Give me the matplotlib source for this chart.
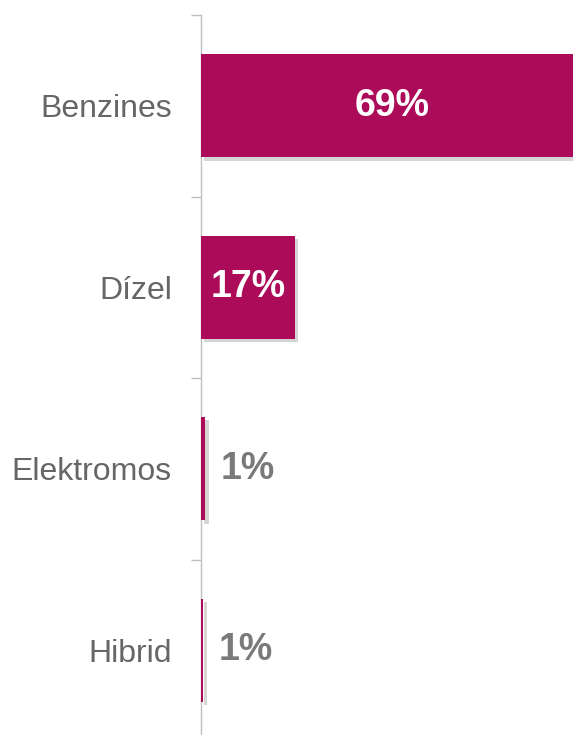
import matplotlib
matplotlib.use('Agg')
import matplotlib.pyplot as plt
import matplotlib.patheffects as pe

# adatok
kategoriak = ['Benzines', 'Dízel', 'Elektromos', 'Hibrid']
ertekek = [69, 17, 0.75, 0.4]
cimkek = ['69%', '17%', '1%', '1%']

bar_szin = '#AC0B5A'
szurke = '#666666'

plt.rcParams['font.family'] = ['Liberation Sans', 'DejaVu Sans']

fig = plt.figure(figsize=(5.73, 7.35), dpi=100)
# a tengely jobbra es lefele kilog a kepbol, mint az eredetin
ax = fig.add_axes([201 / 573, -6 / 735, 1 - 201 / 573, 726 / 735])

pos = list(range(len(kategoriak)))
bars = ax.barh(pos, ertekek, height=0.57, color=bar_szin, zorder=3)
for b in bars:
    b.set_path_effects([pe.SimplePatchShadow(offset=(2.5, -2.5), shadow_rgbFace='#777777', alpha=0.3),
                        pe.Normal()])

ax.set_xlim(0, (573 - 201) / 5.53)
ax.set_ylim(3.5, -0.5)

for p, v, c in zip(pos, ertekek, cimkek):
    if v > 10:
        ax.text(v / 2, p, c, ha='center', va='center', color='white',
                fontsize=27, fontweight='bold', zorder=4)
    else:
        ax.annotate(c, (v, p), xytext=(11, 0), textcoords='offset points',
                    ha='left', va='center', color='#7a7a7a',
                    fontsize=27, fontweight='bold')

ax.set_yticks(pos)
ax.set_yticklabels(kategoriak, fontsize=23, color=szurke)
ax.tick_params(axis='y', which='major', length=0, pad=21)
ax.set_yticks([-0.5, 0.5, 1.5, 2.5, 3.5], minor=True)
ax.tick_params(axis='y', which='minor', length=7, color='#BFBFBF', width=1)
ax.set_xticks([])

for s in ['top', 'right', 'bottom']:
    ax.spines[s].set_visible(False)
ax.spines['left'].set_color('#BFBFBF')
ax.spines['left'].set_linewidth(1)

fig.savefig('out.png', dpi=100)
